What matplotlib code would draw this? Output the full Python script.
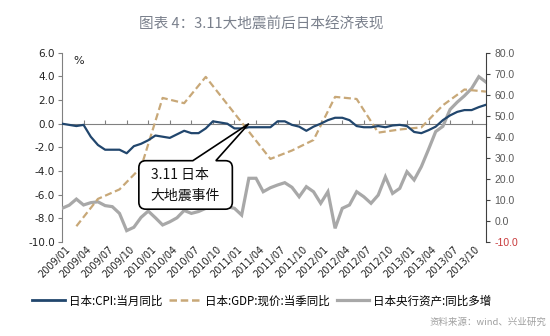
import numpy as np
import matplotlib
matplotlib.use('Agg')
import matplotlib.pyplot as plt
from matplotlib.path import Path
from matplotlib.patches import PathPatch
from matplotlib.lines import Line2D
from matplotlib.transforms import blended_transform_factory

plt.rcParams['font.family'] = ['Noto Sans CJK SC', 'DejaVu Sans']

# monthly axis, 2009/01 .. 2013/12
months = ['%d/%02d' % (y, m) for y in range(2009, 2014) for m in range(1, 13)]
tick_labels = months[::3]

# 日本:CPI:当月同比 (%), monthly, left axis
cpi = [0.0, -0.1, -0.2, -0.1, -1.1, -1.8, -2.2, -2.2, -2.2, -2.5, -1.9, -1.7,
       -1.4, -1.0, -1.1, -1.2, -0.9, -0.6, -0.8, -0.8, -0.4, 0.2, 0.1, 0.0,
       -0.4, -0.4, -0.3, -0.3, -0.3, -0.3, 0.2, 0.2, -0.1, -0.25, -0.6, -0.25,
       0.0, 0.3, 0.5, 0.5, 0.3, -0.2, -0.3, -0.3, -0.2, -0.3, -0.15, -0.1,
       -0.2, -0.7, -0.8, -0.55, -0.25, 0.3, 0.7, 1.0, 1.15, 1.15, 1.4, 1.6]

# 日本:GDP:现价:当季同比, quarter-end months, right axis
gdp_idx = list(range(2, 60, 3))
gdp = [-2.5, 10.5, 15.0, 25.5, 58.5, 56.0, 68.5, 55.5, 42.5, 29.5,
       33.5, 38.5, 59.0, 58.0, 42.0, 43.5, 44.5, 55.0, 62.5, 61.5]

# 日本央行资产:同比多增, monthly, right axis
boj = [6.0, 7.5, 10.4, 7.6, 8.7, 9.1, 7.3, 6.8, 3.6, -4.6, -3.0, 1.7,
       4.7, 1.5, -1.9, -0.4, 1.5, 5.0, 3.6, 4.5, 6.0, 10.0, 9.1, 6.8,
       6.0, 2.8, 20.3, 20.3, 13.9, 15.8, 17.1, 18.2, 16.0, 11.5, 16.3, 13.9,
       8.4, 13.9, -3.5, 6.0, 7.6, 13.9, 11.5, 8.4, 12.3, 21.0, 13.1, 15.5,
       23.4, 19.5, 25.8, 34.0, 42.5, 45.0, 53.0, 56.5, 59.5, 63.0, 68.6, 66.0]

quake_month = '2011/03'

c_cpi = '#21466D'
c_gdp = '#C8A878'
c_boj = '#A8A8A8'
c_axis = '#808080'

fig = plt.figure(figsize=(5.5, 3.36), dpi=100)
fig.patch.set_facecolor('white')
ax = fig.add_axes([62 / 550, 1 - 242 / 336, 424 / 550, 189.3 / 336])
ax2 = ax.twinx()

x = np.arange(len(months))
ax.set_xlim(0, len(months) - 1)
ax.set_ylim(-10, 6)
ax2.set_ylim(-10, 80)

# left axis
ax.set_yticks(np.arange(-10, 7, 2))
ax.set_yticklabels(['%.1f' % v for v in np.arange(-10, 7, 2)],
                   family='DejaVu Sans', fontsize=7.5, color='#222222')
ax.tick_params(axis='y', direction='out', length=3, color=c_axis, pad=2)
ax.spines['left'].set_color(c_axis)
ax.spines['top'].set_visible(False)
ax.spines['right'].set_visible(False)

# category axis sits on the zero line
ax.spines['bottom'].set_position(('data', 0))
ax.spines['bottom'].set_color(c_axis)
ax.set_xticks(x[::3])
ax.tick_params(axis='x', direction='in', length=3, color=c_axis, labelbottom=False)

# right axis
rt = np.arange(-10, 81, 10)
ax2.set_yticks(rt)
ax2.set_yticklabels(['%.1f' % v for v in rt], family='Liberation Sans', fontsize=7.5, color='#595959')
ax2.get_yticklabels()[0].set_color('#C8383A')
ax2.tick_params(axis='y', direction='out', length=3, color='#404040', pad=3)
for s in ['left', 'top', 'bottom']:
    ax2.spines[s].set_visible(False)
ax2.spines['right'].set_color('#404040')

# series: gray first so the others sit above it
ax2.plot(x, boj, color=c_boj, lw=2.3, solid_joinstyle='miter', zorder=2)
ax2.plot(gdp_idx, gdp, color=c_gdp, lw=1.6, dashes=(3.2, 1.6), zorder=3)
ax2.plot(x, cpi, color=c_cpi, lw=1.6, zorder=4, transform=ax.transData)

ax.text(0.028, 0.985, '%', transform=ax.transAxes, fontsize=8, family='DejaVu Sans',
        ha='left', va='top', color='#222222')

# rotated month labels under the plot
trans = blended_transform_factory(ax.transData, ax.transAxes)
for i, lab in zip(x[::3], tick_labels):
    ax.text(i + 0.4, -0.012, lab, transform=trans, rotation=45, rotation_mode='anchor',
            ha='right', va='top', fontsize=7, family='DejaVu Sans', color='#222222')

# callout for the 3.11 earthquake, built in pixel space
fig.canvas.draw()
q = months.index(quake_month)
tx, ty = ax.transData.transform((q, 0))
x0, x1 = tx - 110, tx - 16.5
y1, y0 = ty - 37, ty - 85.5
wx0, wx1 = tx - 56, tx - 33
r = 7
verts = [(x0 + r, y1), (wx0, y1), (tx, ty), (wx1, y1), (x1 - r, y1),
         (x1, y1), (x1, y1 - r), (x1, y0 + r),
         (x1, y0), (x1 - r, y0), (x0 + r, y0),
         (x0, y0), (x0, y0 + r), (x0, y1 - r),
         (x0, y1), (x0 + r, y1), (x0 + r, y1)]
codes = [Path.MOVETO, Path.LINETO, Path.LINETO, Path.LINETO, Path.LINETO,
         Path.CURVE3, Path.CURVE3, Path.LINETO,
         Path.CURVE3, Path.CURVE3, Path.LINETO,
         Path.CURVE3, Path.CURVE3, Path.LINETO,
         Path.CURVE3, Path.CURVE3, Path.CLOSEPOLY]
callout = PathPatch(Path(verts, codes), facecolor='white', edgecolor='black', lw=1.2,
                    transform=None, zorder=10)
fig.add_artist(callout)
fig.text((x0 + 12) / 550, (y1 - 14) / 336, '3.11 日本', fontsize=10, ha='left', va='center',
         color='#111111', zorder=11)
fig.text((x0 + 12) / 550, (y1 - 35) / 336, '大地震事件', fontsize=10, ha='left', va='center',
         color='#111111', zorder=11)

fig.text(261 / 550, 1 - 24 / 336, '图表 4：3.11大地震前后日本经济表现', fontsize=10.5,
         ha='center', va='center', color='#7A808C')

handles = [Line2D([], [], color=c_cpi, lw=2),
           Line2D([], [], color=c_gdp, lw=1.8, dashes=(3, 1.5)),
           Line2D([], [], color=c_boj, lw=2.3)]
labels = ['日本:CPI:当月同比', '日本:GDP:现价:当季同比', '日本央行资产:同比多增']
fig.legend(handles, labels, loc='center', bbox_to_anchor=(262 / 550, 1 - 301 / 336),
           ncol=3, frameon=False, fontsize=8.3, handlelength=2.8, handletextpad=0.35,
           columnspacing=0.6)

fig.text(546 / 550, 1 - 322 / 336, '资料来源：wind、兴业研究', fontsize=6.8, ha='right',
         va='center', color='#A0A0A0')

fig.savefig('out.png', dpi=100)
